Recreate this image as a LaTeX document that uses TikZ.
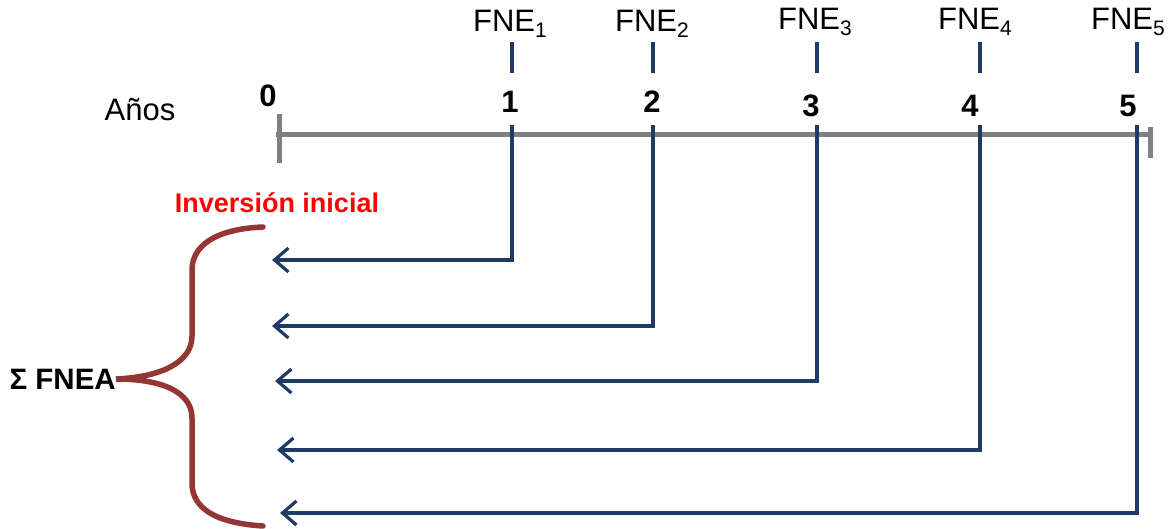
\documentclass[tikz,border=0pt]{standalone}
\usepackage{fontspec}
\setmainfont{Liberation Sans}
\usetikzlibrary{arrows.meta}
\definecolor{navy}{HTML}{1F3A64}
\definecolor{axisgray}{HTML}{808080}
\definecolor{bracered}{HTML}{943634}
\definecolor{labelred}{HTML}{FF0000}
\newcommand{\fne}[1]{FNE\raisebox{-6pt}{\fontsize{21}{21}\selectfont #1}}
\tikzset{
  big/.style={font=\fontsize{31}{34}\selectfont, inner sep=0pt},
  yearnum/.style={font=\fontsize{31}{34}\selectfont\bfseries, inner sep=0pt},
  axis/.style={draw=axisgray, line width=5pt},
  flow/.style={draw=navy, line width=3.2pt},
  flowarrow/.style={flow, -{Straight Barb[length=14pt,width=24pt,line width=3.2pt]}},
  bracket/.style={draw=bracered, line width=5.5pt, line cap=round},
}
\begin{document}
\begin{tikzpicture}[x=1pt, y=-1pt]
\useasboundingbox (0,0) rectangle (1170,529);

% time axis with end ticks
\coordinate (a0) at (276,135);
\coordinate (a5) at (1152,135);
\draw[axis] (a0) -- (a5);
\draw[axis] (279,114) -- (279,163);
\draw[axis] (1150,127) -- (1150,158);

% labels
\node[big] (anos) at (140,110) {Años};
\node[yearnum] (n0) at (268,96) {0};
\node[yearnum] (n1) at (510,102) {1};
\node[yearnum] (n2) at (652,102) {2};
\node[yearnum] (n3) at (811,106) {3};
\node[yearnum] (n4) at (970,106) {4};
\node[yearnum] (n5) at (1128,106) {5};

\node[big] (f1) at (510,24) {\fne{1}};
\node[big] (f2) at (652,24) {\fne{2}};
\node[big] (f3) at (815,22) {\fne{3}};
\node[big] (f4) at (975,22) {\fne{4}};
\node[big] (f5) at (1128,22) {\fne{5}};

\node[font=\fontsize{27}{30}\selectfont\bfseries, text=labelred, inner sep=0pt] (inv) at (277,203) {Inversión inicial};
\node[font=\fontsize{29.5}{32}\selectfont\bfseries, inner sep=0pt, anchor=east] (sum) at (116,379) {Σ FNEA};

% short marks under each cash-flow label
\foreach \i/\x in {1/512,2/653,3/817,4/980,5/1137}{
  \coordinate (m\i a) at (\x,42);
  \coordinate (m\i b) at (\x,73);
  \draw[flow] (m\i a) -- (m\i b);
}

% cash flows brought back to year 0
\coordinate (t1) at (512,125); \coordinate (e1) at (272,260);
\coordinate (t2) at (653,125); \coordinate (e2) at (272,326);
\coordinate (t3) at (817,125); \coordinate (e3) at (275,381);
\coordinate (t4) at (980,125); \coordinate (e4) at (277,450);
\coordinate (t5) at (1137,125); \coordinate (e5) at (280,513);
\foreach \i in {1,...,5}{
  \draw[flowarrow] (t\i) |- (e\i);
}

% curly brace gathering the discounted flows
\draw[bracket] (263,227) .. controls (215,229) and (192,246) .. (192,270)
  -- (192,336) .. controls (192,362) and (162,377) .. (sum.east)
  .. controls (162,379) and (192,392) .. (192,418)
  -- (192,483) .. controls (192,508) and (215,523) .. (263,526);
\end{tikzpicture}
\end{document}
